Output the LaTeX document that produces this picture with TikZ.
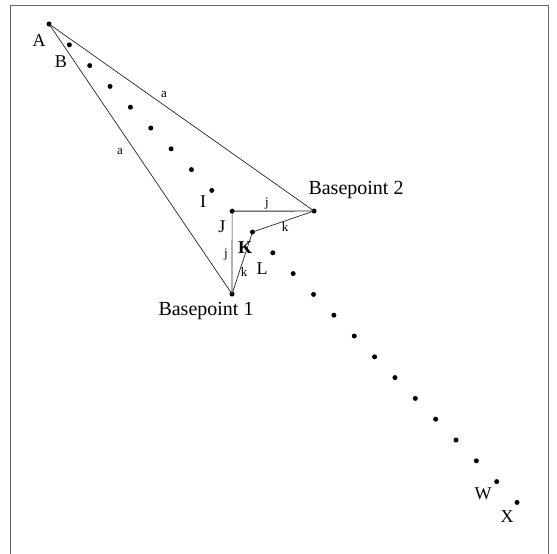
\documentclass[tikz,border=0pt]{standalone}
\usepackage{fontspec}
\setmainfont{Liberation Serif}
\begin{document}
\begin{tikzpicture}[x=1pt,y=-1pt,
  dot/.style={circle,fill=black,inner sep=0pt,minimum size=5pt},
  ln/.style={line width=0.7pt,draw=black!85},
  frame/.style={line width=0.8pt,draw=black!60},
  big/.style={font=\fontsize{18}{18}\selectfont,inner sep=0pt},
  bp/.style={font=\fontsize{20}{20}\selectfont,inner sep=0pt},
  sm/.style={font=\fontsize{13}{13}\selectfont,inner sep=0pt}]
\useasboundingbox (0,0) rectangle (557,554);
\draw[frame] (10,554) -- (10,5) -- (548,5) -- (548,554);
\foreach \l [count=\i from 0] in {A,B,C,D,E,F,G,H,I,J,K,L,M,N,O,P,Q,R,S,T,U,V,W,X}
  \node[dot] (\l) at ({49+20.35*\i},{24+20.8*\i}) {};
\node[dot] (bp1) at (232,294) {};
\node[dot] (bp2) at (314,211) {};
\draw[ln] (A.center) -- (bp2.center);
\draw[ln] (A.center) -- (bp1.center);
\draw[ln,line width=0.9pt] (J.center) -- (bp2.center);
\draw[ln] (J.center) -- (bp1.center);
\draw[ln] (K.center) -- (bp2.center);
\draw[ln] (K.center) -- (bp1.center);
\node[big] (tA) at (39,41) {A};
\node[big] (tB) at (61,62) {B};
\node[big] (tI) at (203,202) {I};
\node[big] (tJ) at (222,227) {J};
\node[big,font=\fontsize{18}{18}\selectfont\bfseries] (tK) at (245,248) {K};
\node[big] (tL) at (262,269) {L};
\node[big] (tW) at (483,494) {W};
\node[big] (tX) at (507,517) {X};
\node[sm] (la1) at (164,95) {a};
\node[sm] (la2) at (120,152) {a};
\node[sm] (lj1) at (267,204) {j};
\node[sm] (lk1) at (285,227) {k};
\node[sm] (lj2) at (226,255) {j};
\node[sm] (lk2) at (244,272) {k};
\node[bp] (tbp2) at (356,190) {Basepoint 2};
\node[bp] (tbp1) at (206,311) {Basepoint 1};
\end{tikzpicture}
\end{document}
